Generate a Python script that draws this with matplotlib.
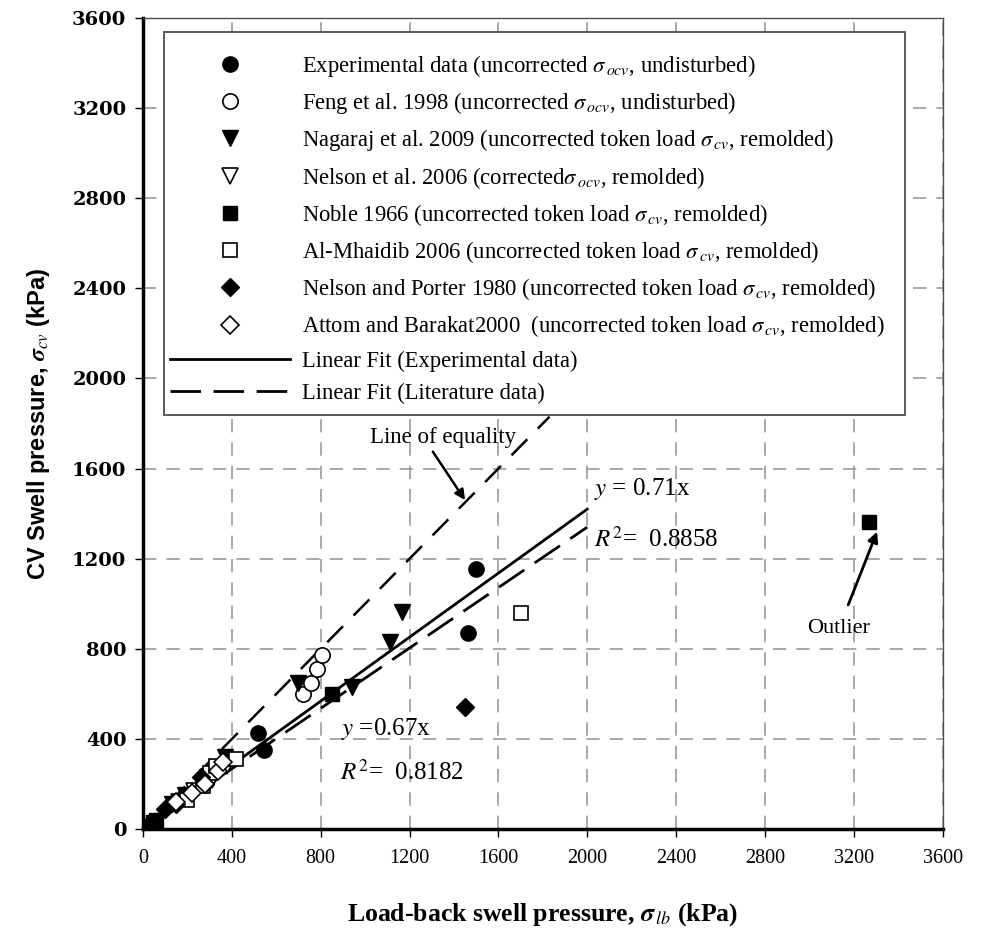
import numpy as np
import matplotlib
matplotlib.use("Agg")
import matplotlib.pyplot as plt
from matplotlib.patches import Rectangle

plt.rcParams['font.family'] = ['Liberation Serif', 'DejaVu Serif']
plt.rcParams['mathtext.fontset'] = 'stix'

# ---- data (kPa) ----
exp_x = [15, 520, 545, 1465, 1500]
exp_y = [10, 425, 350, 870, 1155]

feng_x = [720, 755, 785, 805]
feng_y = [600, 650, 710, 775]

nagaraj_x = [130, 190, 290, 370, 700, 940, 1110, 1165]
nagaraj_y = [110, 150, 230, 320, 650, 630, 830, 965]

nelson06_x = [160, 230, 310, 380]
nelson06_y = [120, 170, 220, 280]

noble_x = [20, 45, 60, 850, 3270]
noble_y = [15, 30, 40, 600, 1365]

mhaidib_x = [200, 270, 300, 330, 420, 1700]
mhaidib_y = [130, 190, 250, 280, 310, 960]

porter_x = [100, 150, 260, 280, 1450]
porter_y = [90, 110, 230, 200, 540]

attom_x = [150, 220, 280, 340, 360]
attom_y = [120, 160, 200, 260, 300]

slope_exp = 0.71
slope_lit = 0.67
fit_end = 2000
equality_end = 1830

fig = plt.figure(figsize=(9.86, 9.38), dpi=100)
ax = fig.add_axes([0.145, 0.116, 0.811, 0.865])

ms = 11
ax.plot(exp_x, exp_y, 'o', color='black', ms=ms, ls='none', zorder=5,
        label=r'Experimental data (uncorrected $\sigma_{\,ocv}$, undisturbed)')
ax.plot(feng_x, feng_y, 'o', mfc='white', mec='black', ms=ms, mew=1.2, ls='none', zorder=5,
        label=r'Feng et al. 1998 (uncorrected $\sigma_{\,ocv}$, undisturbed)')
ax.plot(nagaraj_x, nagaraj_y, 'v', color='black', ms=ms, ls='none', zorder=5,
        label=r'Nagaraj et al. 2009 (uncorrected token load $\sigma_{\,cv}$, remolded)')
ax.plot(nelson06_x, nelson06_y, 'v', mfc='white', mec='black', ms=ms, mew=1.2, ls='none', zorder=5,
        label=r'Nelson et al. 2006 (corrected$\sigma_{\,ocv}$, remolded)')
ax.plot(noble_x, noble_y, 's', color='black', ms=10, ls='none', zorder=5,
        label=r'Noble 1966 (uncorrected token load $\sigma_{\,cv}$, remolded)')
ax.plot(mhaidib_x, mhaidib_y, 's', mfc='white', mec='black', ms=10, mew=1.2, ls='none', zorder=5,
        label=r'Al-Mhaidib 2006 (uncorrected token load $\sigma_{\,cv}$, remolded)')
ax.plot(porter_x, porter_y, 'D', color='black', ms=9, ls='none', zorder=5,
        label=r'Nelson and Porter 1980 (uncorrected token load $\sigma_{\,cv}$, remolded)')
ax.plot(attom_x, attom_y, 'D', mfc='white', mec='black', ms=9, mew=1.2, ls='none', zorder=5,
        label=r'Attom and Barakat2000  (uncorrected token load $\sigma_{\,cv}$, remolded)')

xf = np.array([0, fit_end])
ax.plot(xf, slope_exp * xf, color='black', lw=2, label='Linear Fit (Experimental data)')
ax.plot(xf, slope_lit * xf, color='black', lw=2, dashes=(11, 4.5),
        label='Linear Fit (Literature data)')
xe = np.array([0, equality_end])
ax.plot(xe, xe, color='black', lw=1.8, dashes=(9, 6))

# annotations
ax.text(2030, 1510, r'$y$ = 0.71x', fontsize=18, va='center')
ax.text(2030, 1285, r'$R^2$=  0.8858', fontsize=18, va='center')
ax.text(890, 445, r'$y$ =0.67x', fontsize=18, va='center')
ax.text(885, 250, r'$R^2$=  0.8182', fontsize=18, va='center')

ax.text(1020, 1740, 'Line of equality', fontsize=16.5, va='center')
ax.annotate('', xy=(1450, 1460), xytext=(1305, 1675),
            arrowprops=dict(arrowstyle='-|>', color='black', lw=1.8,
                            shrinkA=0, shrinkB=0, mutation_scale=15))
ax.annotate('', xy=(3305, 1320), xytext=(3175, 995),
            arrowprops=dict(arrowstyle='-|>', color='black', lw=2,
                            shrinkA=0, shrinkB=0, mutation_scale=15))
ax.text(3130, 890, 'Outlier', fontsize=16, ha='center', va='center')

ax.set_xlim(0, 3600)
ax.set_ylim(0, 3600)
ticks = np.arange(0, 3601, 400)
ax.set_xticks(ticks)
ax.set_yticks(ticks)
ax.tick_params(axis='x', direction='out', length=6, width=1, labelsize=14.5, pad=8)
ax.tick_params(axis='y', direction='out', length=6, width=1, pad=6)
for lab in ax.get_yticklabels():
    lab.set_fontfamily('DejaVu Serif')
    lab.set_fontsize(14)
    lab.set_fontweight('bold')

ax.grid(True, color='0.6', lw=1.2, dashes=(8, 6))
ax.set_axisbelow(True)

ax.spines['left'].set_linewidth(2.5)
ax.spines['bottom'].set_linewidth(2.5)
ax.spines['top'].set_linewidth(1)
ax.spines['right'].set_linewidth(1)
ax.spines['top'].set_color('0.3')
ax.spines['right'].set_color('0.3')

ax.set_xlabel(r'Load-back swell pressure, $\boldsymbol{\sigma}_{\,lb}$ (kPa)',
              fontsize=18.5, fontweight='bold', labelpad=24)
ax.set_ylabel(r'CV Swell pressure, $\boldsymbol{\sigma}_{cv}$ (kPa)',
              fontsize=17, fontweight='bold', labelpad=14,
              family=['Liberation Sans', 'DejaVu Sans'])

# legend box drawn separately so its size matches the original
box = Rectangle((0.026, 0.510), 0.9265, 0.473, transform=ax.transAxes,
                facecolor='white', edgecolor='0.35', lw=1.4, zorder=3)
ax.add_patch(box)
leg = ax.legend(loc='upper left', bbox_to_anchor=(0.034, 0.957), fontsize=16.25,
                frameon=False, handlelength=5.3, handletextpad=0.55,
                labelspacing=0.5, borderpad=0, borderaxespad=0, numpoints=1)
leg.set_zorder(6)

fig.savefig('out.png', dpi=100)
